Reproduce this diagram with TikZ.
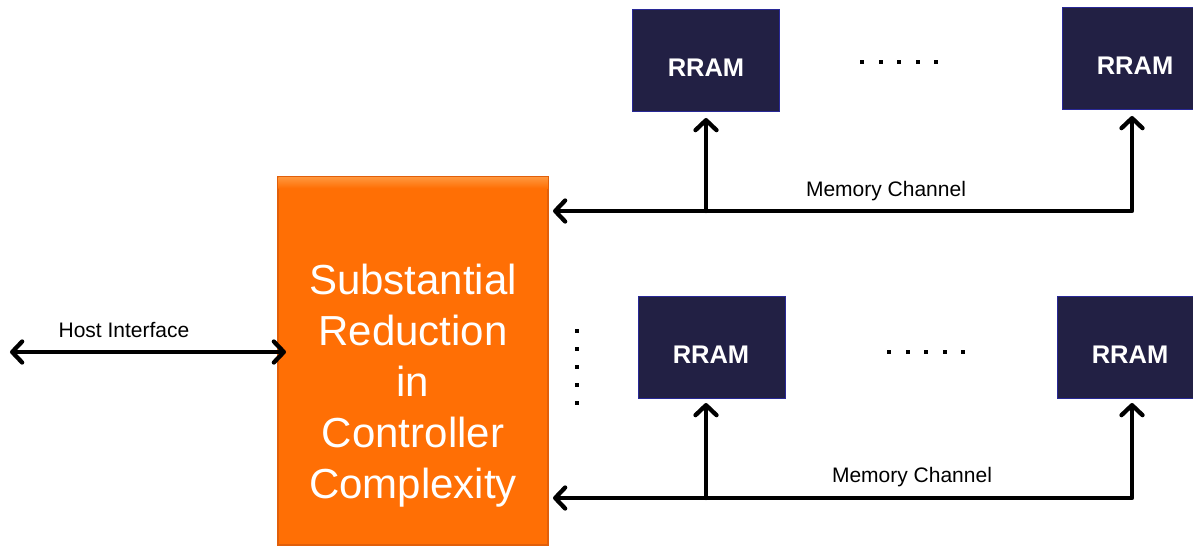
\documentclass[tikz,border=0pt]{standalone}
\usepackage{fontspec}
\setmainfont{Liberation Sans}
\usetikzlibrary{arrows.meta,calc}
\definecolor{ctrlorange}{RGB}{255,111,5}
\definecolor{ctrllight}{RGB}{255,150,60}
\definecolor{ctrledge}{RGB}{225,95,10}
\definecolor{rramfill}{RGB}{34,32,68}
\definecolor{rramedge}{RGB}{40,40,150}
\tikzset{
  rram/.style={draw=rramedge, line width=1pt, fill=rramfill, minimum width=147pt, minimum height=102pt, inner sep=0pt,
    text=white, font=\fontsize{25.5}{30}\selectfont\bfseries},
  rramtext/.style={text=white, font=\fontsize{25.5}{30}\selectfont\bfseries, inner sep=0pt},
  ctrlbox/.style={draw=ctrledge, line width=1.5pt, fill=ctrlorange, minimum width=270pt, minimum height=368pt, inner sep=0pt},
  ctrltext/.style={text=white, align=center, font=\fontsize{42}{51}\selectfont},
  lbl/.style={font=\fontsize{21}{24}\selectfont, inner sep=0pt},
  bus/.style={line width=4.3pt, line join=round, line cap=round},
  tip/.style={-{Straight Barb[length=10pt,width=21pt,line width=4.3pt,round]}},
  tips/.style={{Straight Barb[length=10pt,width=21pt,line width=4.3pt,round]}-{Straight Barb[length=10pt,width=21pt,line width=4.3pt,round]}},
  dot/.style={fill=black, minimum size=4pt, inner sep=0pt}
}
\begin{document}
\begin{tikzpicture}[x=1pt,y=-1pt]
\useasboundingbox (0,0) rectangle (1193,546);
% controller
\node[ctrlbox] (ctrl) at (413,361) {};
\shade[top color=ctrllight, bottom color=ctrlorange] ([xshift=1pt,yshift=-1pt]ctrl.north west) rectangle ([xshift=-1pt,yshift=-12pt]ctrl.north east);
\node[ctrltext] (ctrltxt) at (413,386) {Substantial\\Reduction\\in\\Controller\\Complexity};
% top row
\node[rram] (r11) at (705.5,60) {};
\node[rram] (r12) at (1135.5,58) {};
\node[rramtext] (t11) at (706,68) {RRAM};
\node[rramtext] (t12) at (1135,66) {RRAM};
% bottom row
\node[rram] (r21) at (711.5,347) {};
\node[rram] (r22) at (1130.5,347) {};
\node[rramtext] (t21) at (711,355) {RRAM};
\node[rramtext] (t22) at (1130,355) {RRAM};
% dots
\foreach \i in {0,...,4} {
  \node[dot] (td\i) at (862+18.5*\i,62) {};
  \node[dot] (bd\i) at (889+18.5*\i,352) {};
  \node[dot] (vd\i) at (577,331+18*\i) {};
}
% host interface
\coordinate (hostL) at (10,352);
\coordinate (hostR) at (286,352);
\draw[bus,tips] (hostL) -- (hostR);
\node[lbl] (hostlbl) at (124,330) {Host Interface};
% top channel
\coordinate (c1corner) at (1132,211);
\coordinate (c1tipL) at (553,211);
\coordinate (c1j) at (706,211);
\coordinate (c1tipR) at (1132,116);
\coordinate (c1tipM) at (706,118);
\draw[bus,tips] (c1tipR) -- (c1corner) -- (c1tipL);
\draw[bus,tip] (c1j) -- (c1tipM);
\node[lbl] (ch1lbl) at (886,191) {Memory Channel};
% bottom channel
\coordinate (c2corner) at (1132,498);
\coordinate (c2tipL) at (553,498);
\coordinate (c2j) at (706,498);
\coordinate (c2tipR) at (1132,403);
\coordinate (c2tipM) at (706,403);
\draw[bus,tips] (c2tipR) -- (c2corner) -- (c2tipL);
\draw[bus,tip] (c2j) -- (c2tipM);
\node[lbl] (ch2lbl) at (912,477) {Memory Channel};
\end{tikzpicture}
\end{document}
